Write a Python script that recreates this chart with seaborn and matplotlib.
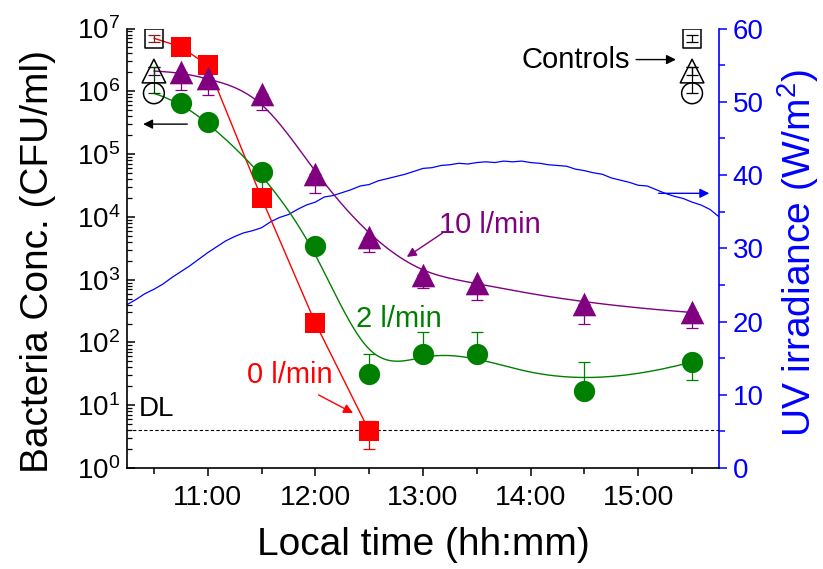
import numpy as np
import matplotlib
matplotlib.use("Agg")
import matplotlib.pyplot as plt
import seaborn as sns
from matplotlib.ticker import FixedLocator, FuncFormatter, LogLocator, MultipleLocator, NullFormatter

# Data
sample_time = [10.75, 11.0, 11.5, 12.0, 12.5, 13.0, 13.5, 14.5, 15.5]
conc_0 = [5.1e6, 2.6e6, 2.0e4, 204, 3.9]
err_0_lo = [0, 0, 0, 0, 1.9]
err_0_hi = [0, 0, 0, 0, 1.8]
conc_2 = [6.6e5, 3.2e5, 5.2e4, 3.4e3, 32, 65, 65, 17, 49]
err_2_lo = [0, 0, 2.7e4, 0, 0, 0, 0, 0, 24]
err_2_hi = [0, 0, 0, 0, 33, 83, 83, 32, 0]
conc_10 = [2.0e6, 1.6e6, 9.1e5, 4.8e4, 4.8e3, 1.2e3, 880, 405, 300]
err_10_lo = [9.5e5, 7.3e5, 4.1e5, 2.4e4, 2.05e3, 460, 410, 210, 130]
err_10_hi = [0, 0, 0, 0, 0, 0, 0, 0, 0]

control_time = 10.5
control_time_right = 15.5
control_conc = [7.0e6, 2.1e6, 9.3e5]   # 0, 10, 2 l/min
control_err_lo = [9e5, 3e5, 0]
control_err_hi = [9e5, 3e5, 1.5e6]

detection_limit = 4.1

uv_time_min = list(range(10 * 60 + 15, 15 * 60 + 46, 5))
uv_irr = [22.3, 23.0, 23.8, 24.4, 25.1, 26.0, 26.8, 27.6, 28.5, 29.4,
          30.2, 31.0, 31.6, 32.1, 32.4, 32.8, 33.6, 34.2, 34.6, 35.3,
          35.9, 36.3, 37.0, 37.2, 37.6, 38.0, 38.5, 38.7, 39.2, 39.5,
          39.8, 40.1, 40.5, 40.9, 41.0, 41.3, 41.4, 41.6, 41.5, 41.7,
          41.8, 41.7, 41.9, 41.8, 41.9, 41.7, 41.6, 41.4, 41.3, 41.2,
          40.8, 40.6, 40.3, 40.1, 39.6, 39.3, 39.0, 38.6, 38.5, 38.0,
          37.5, 37.1, 36.8, 36.3, 35.9, 35.3, 34.3]

RED, GREEN, PURPLE, BLUE = '#ff0000', '#008000', '#800080', '#0000ff'


def bspline(x, y, n=300, k=3):
    # clamped uniform B-spline connector through the control points
    x = np.asarray(x, float)
    y = np.asarray(y, float)
    m = len(x)
    knots = np.concatenate([np.zeros(k), np.arange(m - k + 1), np.full(k, m - k)]).astype(float)
    t = np.linspace(0, m - k - 1e-9, n)

    def basis(i, p):
        if p == 0:
            return ((knots[i] <= t) & (t < knots[i + 1])).astype(float)
        out = np.zeros_like(t)
        d1 = knots[i + p] - knots[i]
        d2 = knots[i + p + 1] - knots[i + 1]
        if d1 > 0:
            out += (t - knots[i]) / d1 * basis(i, p - 1)
        if d2 > 0:
            out += (knots[i + p + 1] - t) / d2 * basis(i + 1, p - 1)
        return out

    B = np.array([basis(i, k) for i in range(m)])
    return B.T @ x, B.T @ y


sns.set_theme(style="ticks", rc={'text.color': 'black', 'axes.labelcolor': 'black',
                                 'xtick.color': 'black', 'ytick.color': 'black',
                                 'axes.edgecolor': 'black'})
plt.rcParams['font.family'] = ['Liberation Sans', 'DejaVu Sans']
plt.rcParams['mathtext.fontset'] = 'custom'
plt.rcParams['mathtext.rm'] = 'Liberation Sans'
plt.rcParams['mathtext.it'] = 'Liberation Sans:italic'
plt.rcParams['mathtext.default'] = 'regular'

fig = plt.figure(figsize=(8.23, 5.69), dpi=100)
ax = fig.add_axes([0.1543, 0.1775, 0.7193, 0.7724])
ax2 = ax.twinx()
ax.set_zorder(ax2.get_zorder() + 1)
ax.patch.set_visible(False)

# UV irradiance
uv_hours = np.array(uv_time_min) / 60.0
sns.lineplot(x=uv_hours, y=uv_irr, ax=ax2, color=BLUE, lw=0.9)
ax2.set_ylim(0, 60)

# connector lines
n = len(conc_0)
sns.lineplot(x=[control_time] + sample_time[:n], y=[control_conc[0]] + conc_0,
             ax=ax, color=RED, lw=1.0, sort=False)
gx, gy = bspline([control_time] + sample_time, np.log10([control_conc[2]] + conc_2))
sns.lineplot(x=gx, y=10 ** gy, ax=ax, color=GREEN, lw=1.0, sort=False)
px, py = bspline([control_time] + sample_time, np.log10([control_conc[1]] + conc_10))
sns.lineplot(x=px, y=10 ** py, ax=ax, color=PURPLE, lw=1.0, sort=False)

# error bars
eb = dict(fmt='none', elinewidth=0.9, capsize=4, capthick=0.9, zorder=3)
ax.errorbar(sample_time[:n], conc_0, yerr=[err_0_lo, err_0_hi], ecolor=RED, **eb)
ax.errorbar(sample_time, conc_2, yerr=[err_2_lo, err_2_hi], ecolor=GREEN, **eb)
ax.errorbar(sample_time, conc_10, yerr=[err_10_lo, err_10_hi], ecolor=PURPLE, **eb)

# filled markers
sns.scatterplot(x=sample_time[:n], y=conc_0, ax=ax, marker='s', s=14.4 ** 2,
                color=RED, edgecolor=RED, linewidth=0, zorder=4)
sns.scatterplot(x=sample_time, y=conc_2, ax=ax, marker='o', s=15.3 ** 2,
                color=GREEN, edgecolor=GREEN, linewidth=0, zorder=4)
sns.scatterplot(x=sample_time, y=conc_10, ax=ax, marker='^', s=17 ** 2,
                color=PURPLE, edgecolor=PURPLE, linewidth=0, zorder=4)

# controls (open markers), drawn at start and next to the "Controls" label
ctrl_ecol = ['#802020', '#400040', '#004000']
for xc, cols in [(control_time, ctrl_ecol), (control_time_right, ['black'] * 3)]:
    for val, lo, hi, mk, sz, ec in zip(control_conc, control_err_lo, control_err_hi,
                                       ['s', '^', 'o'], [13.5, 17, 15], cols):
        ax.errorbar([xc], [val], yerr=[[lo], [hi]], ecolor=ec,
                    **dict(eb, zorder=5))
        ax.scatter([xc], [val], marker=mk, s=sz ** 2, facecolors='none',
                   edgecolors='black', linewidths=1.1, zorder=6)

# detection limit
ax.axhline(detection_limit, color='black', lw=0.8, ls=(0, (3, 2)), zorder=1)
ax.text(10.36, 8.7, 'DL', fontsize=20, va='center', ha='left')

# annotations
arrow = dict(arrowstyle='-|>', lw=1.0, mutation_scale=14, shrinkA=0, shrinkB=0)
ax.text(13.62, 7.4e3, '10 l/min', color=PURPLE, fontsize=21, ha='center', va='center')
ax.annotate('', xy=(12.85, 2.3e3), xytext=(13.18, 5.5e3), arrowprops=dict(arrow, color=PURPLE))
ax.text(12.78, 236, '2 l/min', color=GREEN, fontsize=21, ha='center', va='center')
ax.text(11.76, 30, '0 l/min', color=RED, fontsize=21, ha='center', va='center')
ax.annotate('', xy=(12.35, 7.5), xytext=(12.03, 14.6), arrowprops=dict(arrow, color=RED))
ax.text(14.42, 3.2e6, 'Controls', color='black', fontsize=21, ha='center', va='center')
ax.annotate('', xy=(15.35, 3.2e6), xytext=(14.98, 3.2e6), arrowprops=dict(arrow, color='black'))
ax.annotate('', xy=(10.40, 3.0e5), xytext=(10.81, 3.0e5), arrowprops=dict(arrow, color='black'))
ax2.annotate('', xy=(15.66, 37.5), xytext=(15.19, 37.5), arrowprops=dict(arrow, color=BLUE))

# axes setup
ax.set_yscale('log')
ax.set_ylim(1, 1e7)
ax.set_xlim(10.25, 15.75)
ax.xaxis.set_major_locator(FixedLocator([11, 12, 13, 14, 15]))
ax.xaxis.set_major_formatter(FuncFormatter(lambda v, p: f"{int(round(v))}:00"))
ax.xaxis.set_minor_locator(FixedLocator([10.5, 11.5, 12.5, 13.5, 14.5, 15.5]))
ax.yaxis.set_major_locator(LogLocator(base=10, numticks=10))
ax.yaxis.set_minor_locator(LogLocator(base=10, subs=np.arange(2, 10), numticks=20))
ax.yaxis.set_minor_formatter(NullFormatter())

ax.tick_params(axis='y', which='major', direction='in', length=6, width=1.1, labelsize=20, pad=5)
ax.tick_params(axis='y', which='minor', direction='in', length=3.5, width=0.9)
ax.tick_params(axis='x', which='major', direction='out', length=6, width=1.1, labelsize=20.5, pad=6)
ax.tick_params(axis='x', which='minor', direction='out', length=4, width=1.1)

ax2.yaxis.set_major_locator(MultipleLocator(10))
ax2.yaxis.set_minor_locator(MultipleLocator(5))
ax2.tick_params(axis='y', which='major', direction='out', length=6, width=1.1,
                colors=BLUE, labelsize=20, pad=4)
ax2.tick_params(axis='y', which='minor', direction='out', length=4, width=1.1, colors=BLUE)

for s in ['top', 'right']:
    ax.spines[s].set_visible(False)
for s in ['top', 'left', 'bottom']:
    ax2.spines[s].set_visible(False)
ax2.spines['right'].set_color(BLUE)
ax2.spines['right'].set_linewidth(1.2)
ax.spines['left'].set_linewidth(1.2)
ax.spines['bottom'].set_linewidth(1.2)

ax.set_xlabel('Local time (hh:mm)', fontsize=28)
ax.xaxis.set_label_coords(0.5, -0.135)
ax.set_ylabel('Bacteria Conc. (CFU/ml)', fontsize=28)
ax.yaxis.set_label_coords(-0.12, 0.47)
ax2.set_ylabel(r'UV irradiance (W/m$^{2}$)', fontsize=28, color=BLUE)
ax2.yaxis.set_label_coords(1.095, 0.49)

fig.savefig('out.png', dpi=100)
